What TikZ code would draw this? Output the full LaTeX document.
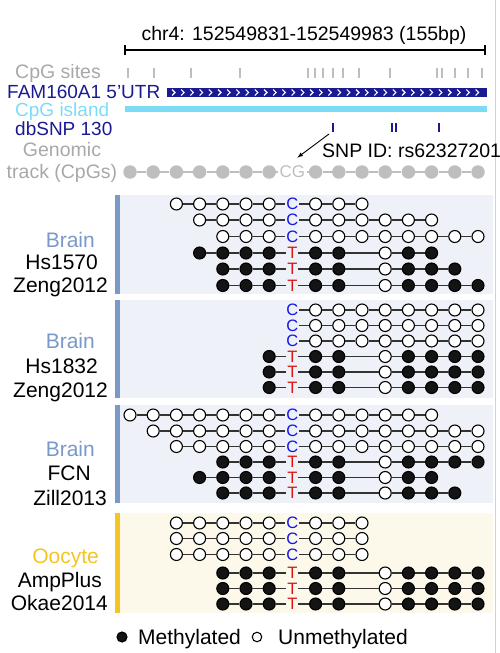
\documentclass[tikz,border=0pt]{standalone}
\usepackage{fontspec}
\setmainfont{Liberation Sans}
\usepackage{tikz}
\usetikzlibrary{arrows,calc}

\definecolor{utrnavy}{RGB}{26,26,146}
\definecolor{islandcyan}{RGB}{125,220,245}
\definecolor{lblgray}{RGB}{168,168,168}
\definecolor{trackgray}{RGB}{190,190,190}
\definecolor{brainblue}{RGB}{122,152,200}
\definecolor{oocyteyel}{RGB}{244,196,36}
\definecolor{panelblue}{RGB}{238,242,248}
\definecolor{panelyel}{RGB}{252,249,234}
\definecolor{cblue}{RGB}{20,20,235}
\definecolor{tred}{RGB}{220,20,20}

\newcommand{\colx}{130}
\newcommand{\colw}{23.2}
% one read: [link style]{name}{y}{first column}{states, - = no site}
\newcommand{\mread}[5][link]{%
  \gdef\prevk{}%
  \foreach \s [count=\k from #4] in {#5} {%
    \if\s-\else
      \node[st\s, name=#2-\k, at={(\colx+\colw*\k,#3)}];
      \ifx\prevk\empty\else\draw[#1] (#2-\prevk) -- (#2-\k);\fi
      \xdef\prevk{\k}%
    \fi}}

\begin{document}
\begin{tikzpicture}[x=1pt,y=-1pt,
  dot/.style={circle, draw=black, line width=1.1pt, minimum size=12pt, inner sep=0pt},
  stu/.style={dot, fill=white, node contents={}},
  stm/.style={dot, fill=black!92, node contents={}},
  letter/.style={inner sep=0.8pt, font=\fontsize{16.5}{16.5}\selectfont},
  stC/.style={letter, text=cblue, node contents=C},
  stT/.style={letter, text=tred, node contents=T},
  stg/.style={circle, fill=trackgray, minimum size=13.5pt, inner sep=0pt, node contents={}},
  stG/.style={letter, inner sep=1.2pt, font=\fontsize{17}{17}\selectfont, text=trackgray, node contents=CG},
  link/.style={line width=1.4pt, black!80},
  glink/.style={line width=1.5pt, trackgray},
  toplbl/.style={font=\fontsize{19.5}{22}\selectfont, inner sep=0pt, anchor=base west},
  blocklbl/.style={font=\fontsize{21}{24}\selectfont, inner sep=0pt, anchor=base east},
  sitetick/.style={line width=1.4pt, trackgray},
  snptick/.style={line width=1.6pt, utrnavy}]
\useasboundingbox (0,0) rectangle (500,653);
\draw[gray!35, line width=0.8pt] (495.5,0) -- (495.5,653);

% header tracks
\node[toplbl, anchor=base] (range) at (304,40) {chr4: 152549831-152549983 (155bp)};
\coordinate (sbl) at (125,50);
\coordinate (sbr) at (485,50);
\draw[line width=1.2pt] (sbl) -- (sbr);
\draw[line width=1.2pt] ([yshift=5pt]sbl) -- ([yshift=-5pt]sbl);
\draw[line width=1.2pt] ([yshift=5pt]sbr) -- ([yshift=-5pt]sbr);

\node[toplbl, text=lblgray] (sites) at (15,78) {CpG sites};
\foreach \t in {128,154,191,240,308,315,323,333,343,359,390,437,442,455,468,482}
  \draw[sitetick] (\t,68) -- (\t,78);

\node[toplbl, font=\fontsize{19}{22}\selectfont, text=utrnavy] (utr) at (7,98) {FAM160A1 5’UTR};
\fill[utrnavy] (167,88) rectangle (487,97);
\foreach \i in {0,...,33}
  \draw[white, line width=1.1pt] (172+9.2*\i,89.5) -- ++(3,3) -- ++(-3,3);

\node[toplbl, font=\fontsize{19}{22}\selectfont, text=islandcyan] (island) at (15,116) {CpG island};
\fill[islandcyan] (125,106) rectangle (487,112);

\node[toplbl, font=\fontsize{19}{22}\selectfont, text=utrnavy] (dbsnp) at (15,135) {dbSNP 130};
\coordinate (snp1) at (333,123);
\coordinate (snp2) at (392,123);
\coordinate (snp3) at (396,123);
\coordinate (snp4) at (439,123);
\foreach \p in {snp1,snp2,snp3,snp4}
  \draw[snptick] (\p) -- ++(0,9);

\node[toplbl, anchor=base, text=lblgray] (genomic) at (62,156) {Genomic};
\node[toplbl, anchor=base, text=lblgray] (track) at (62,178) {track (CpGs)};
\node[toplbl] (snpid) at (322,157) {SNP ID: rs62327201};
\mread[glink]{g}{172}{0}{g,g,g,g,g,g,g,G,g,g,g,g,g,g,g,g}
\coordinate (arrs) at (329,134);
\draw[-latex, line width=0.9pt] (arrs) -- ([shift={(5pt,7pt)}]g-7.north);

% Brain Hs1570
\fill[panelblue] (120,195) rectangle (493,294);
\fill[brainblue] (115,195) rectangle (120,294);
\node[blocklbl, text=brainblue] (b1a) at (95,247) {Brain};
\node[blocklbl] (b1b) at (98,269) {Hs1570};
\node[blocklbl] (b1c) at (108,292) {Zeng2012};
\mread{a1}{204}{2}{u,u,u,u,u,C,u,u,u}
\mread{a2}{220}{3}{u,u,u,u,C,u,u,u,u,u,u}
\mread{a3}{236.5}{4}{u,u,u,C,u,u,u,u,u,u,u,u}
\mread{a4}{253}{3}{m,m,m,m,T,m,m,-,u,m,m}
\mread{a5}{269}{4}{m,m,m,T,m,m,-,u,m,m,m}
\mread{a6}{285.5}{4}{m,m,m,T,m,m,-,u,m,m,m,m}

% Brain Hs1832
\fill[panelblue] (120,300) rectangle (493,398);
\fill[brainblue] (115,300) rectangle (120,398);
\node[blocklbl, text=brainblue] (b2a) at (95,348) {Brain};
\node[blocklbl] (b2b) at (98,373) {Hs1832};
\node[blocklbl] (b2c) at (108,397) {Zeng2012};
\mread{b1}{310}{7}{C,u,u,u,u,u,u,u,u}
\mread{b2}{325.5}{7}{C,u,u,u,u,u,u,u,u}
\mread{b3}{341}{7}{C,u,u,u,u,u,u,u,u}
\mread{b4}{356.5}{6}{m,T,m,m,-,u,m,m,m,m}
\mread{b5}{372}{6}{m,T,m,m,-,u,m,m,m,m}
\mread{b6}{387.5}{6}{m,T,m,m,-,u,m,m,m,m}

% Brain FCN
\fill[panelblue] (120,405) rectangle (493,503);
\fill[brainblue] (115,405) rectangle (120,503);
\node[blocklbl, text=brainblue] (b3a) at (95,456) {Brain};
\node[blocklbl] (b3b) at (91,480) {FCN};
\node[blocklbl] (b3c) at (107,505) {Zill2013};
\mread{c1}{415}{0}{u,u,u,u,u,u,u,C,u,u,u,u,u,u}
\mread{c2}{431}{1}{u,u,u,u,u,u,C,u,u,u,u,u,u,u,u}
\mread{c3}{446.5}{2}{u,u,u,u,u,C,u,u,u,u,u,u,u,u}
\mread{c4}{462}{4}{m,m,m,T,m,m,-,u,m,m,m,m}
\mread{c5}{477.5}{3}{m,m,m,m,T,m,m,-,u,m,m}
\mread{c6}{493}{4}{m,m,m,T,m,m,-,u,m,m,m}

% Oocyte AmpPlus
\fill[panelyel] (120,513) rectangle (493,613);
\fill[oocyteyel] (115,513) rectangle (120,613);
\node[blocklbl, text=oocyteyel] (b4a) at (99,563) {Oocyte};
\node[blocklbl] (b4b) at (102,587) {AmpPlus};
\node[blocklbl] (b4c) at (108,610) {Okae2014};
\mread{d1}{523}{2}{u,u,u,u,u,C,u,u,u}
\mread{d2}{538.5}{2}{u,u,u,u,u,C,u,u,u}
\mread{d3}{554.5}{2}{u,u,u,u,u,C,u,u,u}
\mread{d4}{573}{4}{m,m,m,T,m,m,-,u,m,m,m,m}
\mread{d5}{588.5}{4}{m,m,m,T,m,m,-,u,m,m,m,m}
\mread{d6}{604}{4}{m,m,m,T,m,m,-,u,m,m,m,m}

% legend
\node[dot, fill=black!92, minimum size=10pt] (keym) at (122,637) {};
\node[blocklbl, anchor=base west] (keymt) at (138,644) {Methylated};
\node[dot, fill=white, minimum size=9.5pt] (keyu) at (257,637) {};
\node[blocklbl, anchor=base west] (keyut) at (278,644) {Unmethylated};
\end{tikzpicture}
\end{document}
